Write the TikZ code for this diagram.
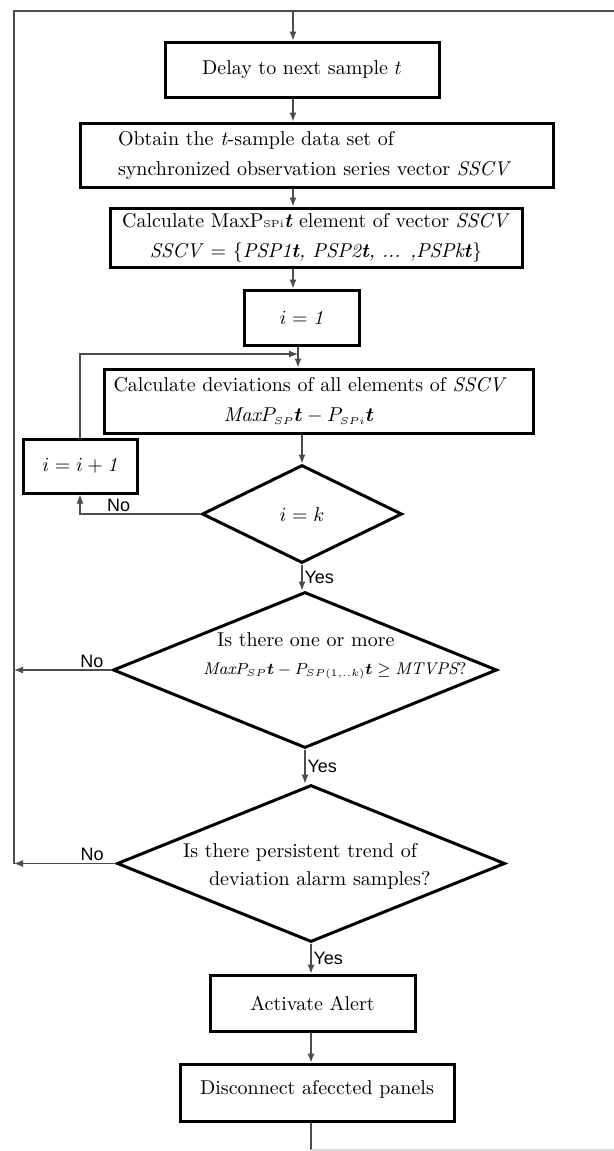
\documentclass[tikz,border=0pt]{standalone}
\usepackage{amsmath}
\usepackage{amssymb}
\usepackage{fontspec}
\newfontfamily\labelfont{Liberation Sans}
\usepackage{tikz}
\usetikzlibrary{calc,shapes.geometric,arrows.meta}
\newcommand{\bt}{\boldsymbol{t}}
\newcommand{\sml}[1]{{\scriptscriptstyle #1}}

\begin{document}
\begin{tikzpicture}[x=0.5pt,y=-0.5pt,
	box/.style={draw, line width=1.5pt, inner sep=0pt},
	decision/.style={draw, diamond, line width=1.5pt, inner sep=0pt},
	flow/.style={draw=black!70, line width=0.6pt},
	arrow/.style={flow, -{Latex[length=4.5pt,width=3.5pt]}},
	answer/.style={font=\labelfont\small, inner sep=1pt}]
	\useasboundingbox (0,0) rectangle (614,1151);

	\node[box, minimum width=137pt, minimum height=27.5pt] (delay) at (302,69.5) {Delay to next sample $t$};
	\node[box, minimum width=236.5pt, minimum height=32pt, text width=198.5pt, align=left] (obtain) at (316.5,155)
		{Obtain the \textit{t}-sample data set of\\[3pt] synchronized observation series vector \textit{SSCV}};
	\node[box, minimum width=206pt, minimum height=29.5pt, align=center] (calc) at (316,237.5)
		{Calculate MaxP{\tiny SPi}\textbf{\textit{t}} element of vector \textit{SSCV}\\[3pt]
		\textit{SSCV} = \{\textit{PSP1\textbf{t}, PSP2\textbf{t}, ... ,PSPk\textbf{t}}\}};
	\node[box, minimum width=57.5pt, minimum height=27.5pt] (i1) at (301.5,317.5) {$i = \mathit{1}$};
	\node[box, minimum width=214.5pt, minimum height=32pt, text width=205pt, align=left] (dev) at (318.5,401)
		{Calculate deviations of all elements of \textit{SSCV}\\[3pt]
		\hspace*{55pt}$\mathit{Max}P_{\sml{SP}}\bt - P_{\sml{SPi}}\bt$};
	\node[box, minimum width=57pt, minimum height=27pt] (inc) at (80,466) {$i = i + \mathit{1}$};

	\node[decision, minimum width=100pt, minimum height=49pt] (dk) at (302,514) {};
	\node (dktext) at (302,515) {$i = k$};
	\node[decision, minimum width=192pt, minimum height=78pt] (dm) at (305,670) {};
	\node[anchor=west, align=left] (dmtext) at (196,656)
		{\hspace*{7pt}Is there one or more\\[2pt]
		{\fontsize{8.5}{10}\selectfont$\mathit{Max}P_{\sml{SP}}\bt - P_{\sml{SP(1,..k)}}\bt \geq \mathit{MTVPS}$?}};
	\node[decision, minimum width=194pt, minimum height=78.5pt] (dt) at (311,863.5) {};
	\node[anchor=west, align=left] (dttext) at (176,866.5)
		{Is there persistent trend of\\[2pt] \hspace*{13pt}deviation alarm samples?};

	\node[box, minimum width=102.5pt, minimum height=28pt] (alert) at (312.5,1003) {Activate Alert};
	\node[box, minimum width=137pt, minimum height=28.5pt, text depth=5pt] (disc) at (317,1092.5) {Disconnect afeccted panels};

	% return loop
	\coordinate (tl) at (14,11);
	\coordinate (tr) at (614,11);
	\coordinate (bl) at (14,863.5);
	\coordinate (br) at (614,1150);
	\coordinate (s) at (293,0);
	\coordinate (merge) at (298,354);
	\draw[flow] (tr) -- (tl) -- (bl);

	\draw[arrow] (tl -| s) -- (delay.north -| s);
	\draw[arrow] (delay.south -| s) -- (obtain.north -| s);
	\draw[arrow] (obtain.south -| s) -- (calc.north -| s);
	\draw[arrow] (calc.south -| s) -- (i1.north -| s);
	\draw[arrow] (i1.south -| merge) -- (dev.north -| merge);
	\draw[arrow] (dev.south -| dk) -- (dk.north);
	\draw[arrow] (dk.west) -| node[answer, pos=0.34, above] {No} (inc.south);
	\draw[arrow] (inc.north) |- (merge);
	\draw[arrow] (dk.south) -- node[answer, right] {Yes} (dk.south |- dm.north);
	\draw[arrow] (dm.west) -- node[answer, pos=0.2, above] {No} (dm.west -| bl);
	\draw[arrow] (dm.south) -- node[answer, right] {Yes} (dm.south |- dt.north);
	\draw[arrow] (dt.west) -- node[answer, pos=0.23, above] {No} (dt.west -| bl);
	\draw[arrow] (dt.south) -- node[answer, right] {Yes} (dt.south |- alert.north);
	\draw[arrow] (alert.south -| dt) -- (disc.north -| dt);
	\draw[flow] (disc.south -| dt) -- (dt |- br);
	\draw[flow, draw=black!15] (dt |- br) -- (br);
\end{tikzpicture}
\end{document}
